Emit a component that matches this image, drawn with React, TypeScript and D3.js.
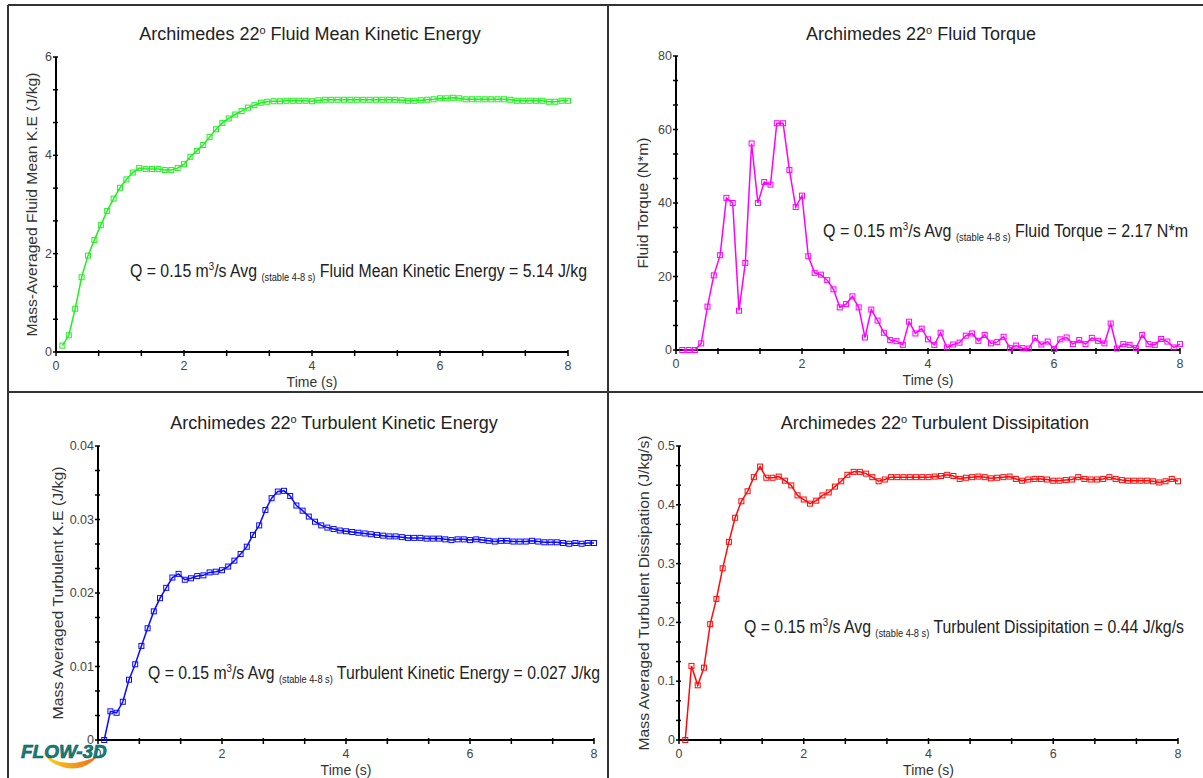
import React from 'react'
import * as d3 from 'd3'

// sample times (s) shared by all four series
const TIME = d3.range(1, 81).map(i => i / 10)

const KE = [
  0.13, 0.34, 0.88, 1.52, 1.96, 2.28, 2.58, 2.87, 3.12, 3.34,
  3.51, 3.65, 3.74, 3.72, 3.72, 3.72, 3.70, 3.70, 3.74, 3.82,
  3.97, 4.09, 4.21, 4.37, 4.53, 4.66, 4.75, 4.83, 4.90, 4.97,
  5.02, 5.07, 5.09, 5.10, 5.10, 5.11, 5.11, 5.11, 5.11, 5.10,
  5.12, 5.13, 5.13, 5.13, 5.13, 5.13, 5.13, 5.13, 5.13, 5.13,
  5.13, 5.13, 5.13, 5.12, 5.11, 5.11, 5.12, 5.13, 5.14, 5.16,
  5.16, 5.17, 5.16, 5.14, 5.14, 5.14, 5.14, 5.14, 5.14, 5.14,
  5.13, 5.11, 5.11, 5.11, 5.11, 5.11, 5.09, 5.09, 5.11, 5.11,
]

const TORQUE = [
  0, 0, 0, 1.8, 11.8, 20.3, 25.8, 41.4, 40, 10.7,
  23.7, 56.2, 40, 45.7, 45, 61.7, 61.7, 49, 38.9, 42,
  25.5, 21, 20.5, 19, 16.5, 11.6, 12.5, 14.6, 11.6, 3.4,
  11, 8, 4.7, 2.7, 2.4, 1.4, 7.7, 4.5, 5.8, 2.9,
  1.4, 4.7, 0.7, 1.5, 2, 3.9, 4.5, 2.5, 4.1, 1.8,
  2.2, 3.6, 0.5, 1.2, 0.5, 0.4, 3.3, 1.5, 2.3, 0.3,
  2.9, 3.4, 1.6, 2.7, 1.6, 3.3, 2.5, 1.8, 7.2, 0.4,
  1.6, 1.4, 0.5, 4.1, 1.6, 1.4, 3, 2.3, 0.7, 1.6,
]

const TKE = [
  0, 0.0039, 0.0037, 0.0052, 0.0082, 0.0103, 0.0128, 0.0152, 0.0175, 0.0193,
  0.0207, 0.0221, 0.0226, 0.0218, 0.0220, 0.0223, 0.0224, 0.0228, 0.0229, 0.0231,
  0.0236, 0.0244, 0.0253, 0.0263, 0.0279, 0.0292, 0.0313, 0.0329, 0.0338, 0.0339,
  0.0332, 0.0319, 0.0312, 0.0304, 0.0297, 0.0292, 0.0289, 0.0287, 0.0285, 0.0284,
  0.0283, 0.0282, 0.0281, 0.0280, 0.0279, 0.0278, 0.0277, 0.0277, 0.0276, 0.0275,
  0.0275, 0.0275, 0.0274, 0.0274, 0.0274, 0.0273, 0.0272, 0.0273, 0.0273, 0.0272,
  0.0273, 0.0272, 0.0271, 0.0270, 0.0271, 0.0271, 0.0270, 0.0270, 0.0270, 0.0271,
  0.0270, 0.0269, 0.0269, 0.0269, 0.0268, 0.0267, 0.0268, 0.0267, 0.0268, 0.0268,
]

const DISS = [
  0, 0.126, 0.093, 0.123, 0.197, 0.240, 0.292, 0.337, 0.378, 0.406,
  0.423, 0.447, 0.465, 0.446, 0.446, 0.448, 0.441, 0.433, 0.416, 0.409,
  0.402, 0.407, 0.416, 0.421, 0.431, 0.440, 0.451, 0.456, 0.456, 0.453,
  0.447, 0.440, 0.443, 0.447, 0.447, 0.447, 0.447, 0.447, 0.447, 0.447,
  0.448, 0.449, 0.451, 0.449, 0.444, 0.446, 0.447, 0.448, 0.447, 0.445,
  0.446, 0.447, 0.448, 0.444, 0.441, 0.443, 0.444, 0.444, 0.443, 0.441,
  0.441, 0.442, 0.443, 0.447, 0.444, 0.443, 0.443, 0.444, 0.447, 0.444,
  0.442, 0.441, 0.441, 0.441, 0.441, 0.440, 0.438, 0.440, 0.444, 0.440,
]

const X_TICKS = [0, 2, 4, 6, 8]
const KE_TICKS = [0, 2, 4, 6]
const TORQUE_TICKS = [0, 20, 40, 60, 80]
const TKE_TICKS = [0, 0.01, 0.02, 0.03, 0.04]
const DISS_TICKS = [0, 0.1, 0.2, 0.3, 0.4, 0.5]

const FONT = 'Liberation Sans, Arial, Helvetica, sans-serif'

const panels = [
  {
    id: 'ke', data: KE, yTicks: KE_TICKS, color: '#22ee22',
    x0: 56, x1: 568, yTop: 57, yBot: 352,
    title: 'Fluid Mean Kinetic Energy', titleX: 310, titleY: 40,
    ylab: 'Mass-Averaged Fluid Mean K.E (J/kg)', ylabX: 31, ylabW: 264,
    ann: 'Fluid Mean Kinetic Energy = 5.14 J/kg', annX: 130, annY: 277, annW: 457,
  },
  {
    id: 'torque', data: TORQUE, yTicks: TORQUE_TICKS, color: '#ff00ff',
    x0: 676, x1: 1180, yTop: 56, yBot: 350,
    title: 'Fluid Torque', titleX: 921, titleY: 40,
    ylab: 'Fluid Torque (N*m)', ylabX: 642, ylabW: 131,
    ann: 'Fluid Torque = 2.17 N*m', annX: 823, annY: 237, annW: 365,
  },
  {
    id: 'tke', data: TKE, yTicks: TKE_TICKS, color: '#0a0aff',
    x0: 98, x1: 594, yTop: 446, yBot: 740,
    title: 'Turbulent Kinetic Energy', titleX: 334, titleY: 429,
    ylab: 'Mass Averaged Turbulent K.E (J/kg)', ylabX: 57, ylabW: 253,
    ann: 'Turbulent Kinetic Energy = 0.027 J/kg', annX: 148, annY: 679, annW: 452,
  },
  {
    id: 'diss', data: DISS, yTicks: DISS_TICKS, color: '#ff0a0a',
    x0: 679, x1: 1178, yTop: 446, yBot: 740,
    title: 'Turbulent Dissipitation', titleX: 935, titleY: 429,
    ylab: 'Mass Averaged Turbulent Dissipation (J/kg/s)', ylabX: 643, ylabW: 315,
    ann: 'Turbulent Dissipitation = 0.44 J/kg/s', annX: 744, annY: 633, annW: 440,
  },
]

function Panel({ p }) {
  const x = d3.scaleLinear().domain([0, 8]).range([p.x0, p.x1])
  const yMax = p.yTicks[p.yTicks.length - 1]
  const y = d3.scaleLinear().domain([0, yMax]).range([p.yBot, p.yTop])
  const pts = TIME.map((t, i) => [t, p.data[i]])
  const line = d3.line().x(d => x(d[0])).y(d => y(d[1]))
  const xStep = (X_TICKS[1] - X_TICKS[0]) / 3
  const yStep = (p.yTicks[1] - p.yTicks[0]) / 3
  const xMinor = d3.range(0, 8 + 1e-9, xStep)
  const yMinor = d3.range(0, yMax + 1e-9, yStep)
  const midY = (p.yTop + p.yBot) / 2

  return (
    <g>
      <text x={p.titleX} y={p.titleY} textAnchor="middle" fontSize={18} fill="#222">
        Archimedes 22<tspan fontSize={11} dy={-6}>o</tspan><tspan dy={6}> {p.title}</tspan>
      </text>

      <text transform={`translate(${p.ylabX},${midY}) rotate(-90)`} textAnchor="middle"
        dominantBaseline="central" fontSize={15} fill="#333"
        textLength={p.ylabW} lengthAdjust="spacingAndGlyphs">{p.ylab}</text>
      <text x={(p.x0 + p.x1) / 2} y={p.yBot + 35} textAnchor="middle" fontSize={14} fill="#333">Time (s)</text>

      {xMinor.map((v, i) => (
        <line key={'xm' + i} x1={x(v)} x2={x(v)} y1={p.yBot - 2} y2={p.yBot + 4} stroke="#000" strokeWidth={1.5} />
      ))}
      {yMinor.map((v, i) => (
        <line key={'ym' + i} x1={p.x0 - 3} x2={p.x0 + 2} y1={y(v)} y2={y(v)} stroke="#000" strokeWidth={1.5} />
      ))}
      {X_TICKS.map(v => (
        <text key={'xt' + v} x={x(v)} y={p.yBot + 18} textAnchor="middle" fontSize={12.5} fill="#444">{v}</text>
      ))}
      {p.yTicks.map(v => (
        <text key={'yt' + v} x={p.x0 - 4} y={y(v)} textAnchor="end" dominantBaseline="central" fontSize={12.5} fill="#444">{String(v)}</text>
      ))}
      <line x1={p.x0} x2={p.x1} y1={p.yBot} y2={p.yBot} stroke="#000" strokeWidth={2} />
      <line x1={p.x0} x2={p.x0} y1={p.yTop} y2={p.yBot} stroke="#000" strokeWidth={2} />

      <path d={line(pts)} fill="none" stroke={p.color} strokeWidth={1.5} />
      {pts.map((d, i) => (
        <rect key={'m' + i} x={x(d[0]) - 2.5} y={y(d[1]) - 2.5} width={5} height={5}
          fill="none" stroke={p.color} strokeWidth={1} />
      ))}

      <text x={p.annX} y={p.annY} fontSize={18} fill="#222" textLength={p.annW} lengthAdjust="spacingAndGlyphs">
        Q = 0.15 m<tspan fontSize={11} dy={-7}>3</tspan><tspan dy={7}>/s Avg </tspan>
        <tspan fontSize={10.5} dy={4}>(stable 4-8 s)</tspan><tspan dy={-4}> {p.ann}</tspan>
      </text>
    </g>
  )
}

export default function App() {
  return (
    <svg width={1203} height={778} style={{ position: 'absolute', left: 0, top: 0, background: '#fff' }}
      fontFamily={FONT}>
      <rect width={1203} height={778} fill="#fff" />
      <line x1={8} x2={1203} y1={5} y2={5} stroke="#333" strokeWidth={2} />
      <line x1={8} x2={8} y1={5} y2={778} stroke="#333" strokeWidth={2} />
      <line x1={608} x2={608} y1={5} y2={778} stroke="#333" strokeWidth={2} />
      <line x1={8} x2={1203} y1={392} y2={392} stroke="#333" strokeWidth={2} />

      {panels.map(p => <Panel key={p.id} p={p} />)}

      <defs>
        <linearGradient id="swoosh" x1="0" x2="1" y1="0" y2="0">
          <stop offset="0" stopColor="#f8d81c" />
          <stop offset="1" stopColor="#ee6a1c" />
        </linearGradient>
      </defs>
      <path d="M43,752 Q62,772 98,756 Q80,776 55,764 Q47,760 43,752 Z" fill="url(#swoosh)" />
      <text x={21} y={758} fontSize={19} fontWeight="bold" fontStyle="italic" fill="#16807c"
        stroke="#0c5552" strokeWidth={0.6}>FLOW-3D</text>
    </svg>
  )
}
